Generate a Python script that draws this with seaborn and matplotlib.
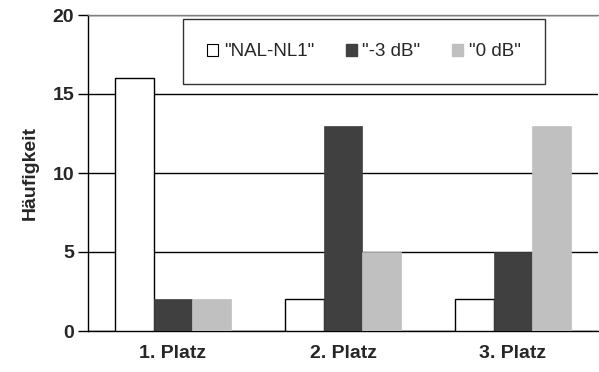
import matplotlib
matplotlib.use("Agg")
import matplotlib.pyplot as plt
import seaborn as sns
import pandas as pd
from matplotlib.patches import Patch

categories = ["1. Platz", "2. Platz", "3. Platz"]
series = ['"NAL-NL1"', '"-3 dB"', '"0 dB"']
nal_nl1 = [16, 2, 2]
minus3 = [2, 13, 5]
zero_db = [2, 5, 13]
colors = ["#ffffff", "#404040", "#c0c0c0"]
yticks = [0, 5, 10, 15, 20]

rows = []
for s, vals in zip(series, [nal_nl1, minus3, zero_db]):
    for c, v in zip(categories, vals):
        rows.append({"Platz": c, "Serie": s, "Wert": v})
df = pd.DataFrame(rows)

sns.set_style("white")
plt.rcParams["font.family"] = ["Liberation Sans", "DejaVu Sans"]

fig = plt.figure(figsize=(5.99, 3.72), dpi=100)
ax = fig.add_axes([88/599, 1-331/372, 510/599, 316/372])

sns.barplot(data=df, x="Platz", y="Wert", hue="Serie", order=categories,
            hue_order=series, palette=colors, width=0.68, gap=0,
            saturation=1, legend=False, ax=ax, zorder=3)

for i, cont in enumerate(ax.containers):
    for p in cont:
        if i == 0:
            p.set_edgecolor("black")
            p.set_linewidth(1.0)
        else:
            p.set_edgecolor(colors[i])
            p.set_linewidth(0.5)

ax.set_xlim(-0.5, 2.5)
ax.set_ylim(0, 20)
ax.set_yticks(yticks)
ax.set_yticklabels([str(t) for t in yticks], fontsize=14, fontweight="bold")
ax.set_xticks(range(len(categories)))
ax.set_xticklabels(categories, fontsize=14, fontweight="bold")
ax.set_xticks([-0.5, 0.5, 1.5, 2.5], minor=True)
ax.tick_params(axis="x", which="major", length=0, pad=10)
ax.tick_params(axis="x", which="minor", length=4, width=1, color="black", direction="out")
ax.tick_params(axis="y", length=7, width=1, color="black", direction="out", pad=3, left=True)
ax.set_xlabel("")
ax.set_ylabel("Häufigkeit", fontsize=14, fontweight="bold", labelpad=10)

ax.yaxis.grid(True, color="black", linewidth=1, zorder=0)
ax.set_axisbelow(True)
for s in ["left", "bottom"]:
    ax.spines[s].set_color("black")
    ax.spines[s].set_linewidth(1)
ax.spines["right"].set_visible(False)
ax.spines["top"].set_color("#808080")
ax.spines["top"].set_linewidth(1)
ax.spines["top"].set_zorder(5)

handles = [Patch(facecolor=colors[0], edgecolor="black", linewidth=0.8),
           Patch(facecolor=colors[1], edgecolor=colors[1]),
           Patch(facecolor=colors[2], edgecolor=colors[2])]
leg = ax.legend(handles, series, ncol=3, loc="center",
                bbox_to_anchor=(0.186, 0.785, 0.710, 0.196), mode="expand",
                fontsize=13.5, frameon=True, fancybox=False, edgecolor="black",
                handlelength=0.6, handleheight=0.6, handletextpad=0.3,
                borderpad=1.28, borderaxespad=0)
leg.get_frame().set_linewidth(1)
leg.set_zorder(10)

fig.savefig("out.png", dpi=100)
